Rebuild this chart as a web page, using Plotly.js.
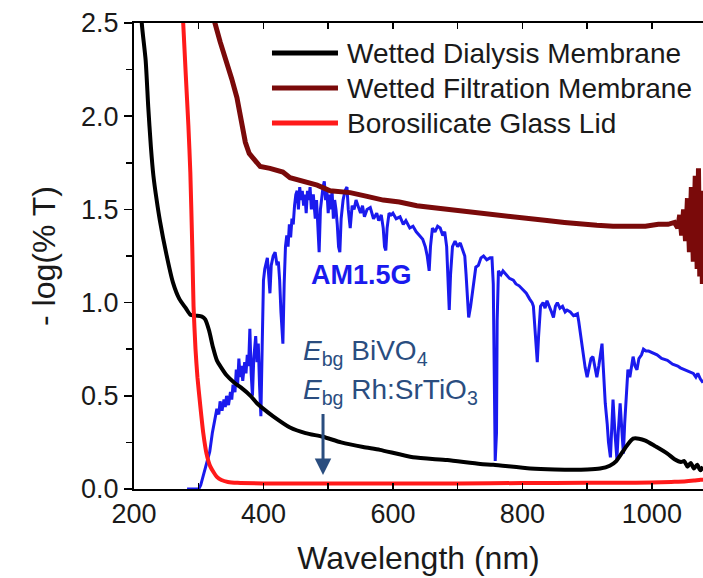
<!DOCTYPE html>
<html>
<head>
<meta charset="utf-8">
<script src="https://cdn.plot.ly/plotly-3.0.1.min.js"></script>
<style>
  html, body { margin: 0; padding: 0; background: #ffffff; overflow: hidden; }
  #chart { width: 703px; height: 578px; }
</style>
</head>
<body>
<div id="chart"></div>
<script>
// ---------- data ----------
const dialysisX = [207, 212, 218, 222, 226, 230, 235, 240, 250, 260, 270, 280, 287, 295, 305, 310, 316, 322, 328, 335, 343, 355, 365, 380, 390, 400, 415, 441, 465, 492, 520, 554, 580, 631, 684, 735, 755, 812, 850, 900, 920, 935, 945, 955, 963, 971, 980, 990, 1005, 1024, 1035, 1045, 1050, 1055, 1060, 1065, 1070, 1075, 1079];
const dialysisY = [2.9, 2.5, 2.3, 2.05, 1.84, 1.68, 1.55, 1.44, 1.26, 1.11, 1.02, 0.97, 0.935, 0.93, 0.925, 0.91, 0.85, 0.76, 0.69, 0.65, 0.61, 0.57, 0.545, 0.5, 0.46, 0.43, 0.39, 0.33, 0.30, 0.28, 0.25, 0.225, 0.21, 0.17, 0.155, 0.134, 0.13, 0.11, 0.105, 0.105, 0.11, 0.125, 0.15, 0.2, 0.24, 0.27, 0.27, 0.26, 0.23, 0.19, 0.16, 0.145, 0.15, 0.12, 0.14, 0.11, 0.13, 0.1, 0.12];

const filtrationX = [318, 325, 333, 343, 351, 359, 364, 367, 372, 378, 385, 395, 410, 430, 441, 460, 483, 503, 534, 560, 585, 610, 637, 660, 688, 710, 735, 760, 790, 815, 838, 865, 890, 915, 940, 965, 990, 1010, 1025, 1035, 1040, 1043, 1046, 1049, 1052, 1055, 1058, 1061, 1064, 1067, 1070, 1072, 1074, 1076, 1078, 1079];
const filtrationY = [2.7, 2.5, 2.4, 2.3, 2.2, 2.1, 2.0, 1.94, 1.86, 1.8, 1.77, 1.73, 1.72, 1.7, 1.67, 1.65, 1.63, 1.6, 1.59, 1.57, 1.55, 1.54, 1.52, 1.51, 1.5, 1.49, 1.48, 1.47, 1.46, 1.45, 1.44, 1.43, 1.42, 1.415, 1.41, 1.41, 1.41, 1.42, 1.42, 1.43, 1.40, 1.47, 1.36, 1.5, 1.33, 1.56, 1.27, 1.62, 1.22, 1.68, 1.18, 1.72, 1.14, 1.6, 1.1, 1.3];

const glassX = [272, 276, 280, 284, 287, 290, 292, 295, 298, 302, 307, 312, 318, 323, 328, 335, 345, 360, 400, 500, 600, 700, 800, 900, 950, 1000, 1030, 1050, 1065, 1075, 1079];
const glassY = [2.75, 2.5, 2.22, 1.95, 1.7, 1.3, 0.98, 0.75, 0.6, 0.46, 0.3, 0.19, 0.12, 0.09, 0.065, 0.048, 0.038, 0.033, 0.03, 0.03, 0.03, 0.03, 0.032, 0.033, 0.033, 0.035, 0.038, 0.04, 0.045, 0.05, 0.05];

const am15gX = [282, 300, 303, 308, 313, 317, 321, 325, 328, 331, 333, 336, 339, 341, 343, 346, 349, 351, 353, 356, 358, 360, 362, 364, 366, 368, 371, 373, 375, 377, 379, 381, 383, 385, 388, 390, 392, 394, 396, 398, 400, 402, 404, 406, 408, 410, 412, 415, 418, 421, 423, 425, 427, 430, 432, 434, 436, 438, 440, 442, 444, 446, 448, 450, 452, 454, 456, 458, 460, 462, 464, 466, 468, 470, 472, 474, 477, 480, 482, 484, 486, 488, 490, 492, 494, 496, 498, 500, 502, 504, 506, 508, 510, 512, 514, 516, 518, 520, 523, 526, 529, 531, 534, 537, 540, 543, 546, 550, 553, 556, 560, 565, 570, 575, 578, 582, 585, 587, 589, 591, 594, 597, 600, 605, 611, 616, 620, 626, 631, 636, 641, 646, 650, 653, 656, 658, 661, 665, 669, 673, 677, 680, 683, 685, 687, 689, 692, 696, 700, 704, 708, 711, 713, 715, 717, 720, 722, 725, 728, 732, 736, 740, 745, 750, 753, 755, 757, 758, 760, 761, 763, 767, 770, 775, 780, 786, 790, 795, 801, 806, 811, 815, 817, 819, 821, 823, 825, 828, 832, 835, 838, 842, 845, 848, 851, 854, 858, 862, 866, 869, 874, 879, 885, 887, 889, 891, 894, 897, 900, 903, 906, 909, 912, 915, 918, 921, 923, 925, 928, 931, 933, 936, 938, 940, 943, 946, 948, 951, 953, 956, 958, 960, 963, 966, 969, 971, 974, 977, 980, 984, 987, 991, 995, 1002, 1008, 1015, 1024, 1032, 1040, 1044, 1050, 1057, 1064, 1068, 1071, 1075, 1079];
const am15gY = [0, 0, 0.02, 0.08, 0.15, 0.2, 0.3, 0.38, 0.43, 0.4, 0.47, 0.42, 0.48, 0.44, 0.5, 0.45, 0.52, 0.48, 0.56, 0.52, 0.64, 0.55, 0.7, 0.6, 0.66, 0.58, 0.68, 0.62, 0.72, 0.66, 0.86, 0.62, 0.5, 0.7, 0.82, 0.68, 0.78, 0.55, 0.39, 0.76, 1.12, 1.18, 1.22, 1.24, 1.15, 1.05, 1.2, 1.25, 1.27, 1.2, 1.22, 1.12, 0.95, 0.78, 1.1, 1.3, 1.36, 1.3, 1.42, 1.35, 1.45, 1.42, 1.52, 1.58, 1.6, 1.5, 1.62, 1.55, 1.6, 1.52, 1.58, 1.48, 1.6, 1.55, 1.62, 1.5, 1.58, 1.45, 1.55, 1.4, 1.27, 1.5, 1.58, 1.62, 1.65, 1.55, 1.6, 1.48, 1.58, 1.5, 1.6, 1.45, 1.55, 1.5, 1.42, 1.3, 1.27, 1.45, 1.55, 1.6, 1.62, 1.5, 1.4, 1.52, 1.5, 1.55, 1.52, 1.48, 1.52, 1.46, 1.5, 1.51, 1.45, 1.48, 1.44, 1.47, 1.4, 1.3, 1.28, 1.4, 1.48, 1.47, 1.48, 1.45, 1.46, 1.42, 1.44, 1.4, 1.41, 1.38, 1.36, 1.34, 1.3, 1.25, 1.17, 1.3, 1.4, 1.38, 1.41, 1.4, 1.36, 1.38, 1.3, 1.1, 0.96, 1.15, 1.3, 1.33, 1.3, 1.32, 1.28, 1.25, 1.15, 1.0, 0.92, 0.98, 1.03, 1.1, 1.19, 1.2, 1.24, 1.25, 1.23, 1.24, 1.24, 1.1, 0.5, 0.15, 0.3, 0.9, 1.17, 1.15, 1.17, 1.15, 1.13, 1.12, 1.1, 1.09, 1.07, 1.05, 1.02, 1.0, 0.98, 0.88, 0.8, 0.68, 0.82, 0.98, 1.0, 0.97, 1.01, 0.98, 0.95, 0.92, 0.98, 1.0, 0.97, 0.98, 0.95, 0.96, 0.95, 0.93, 0.94, 0.9, 0.85, 0.78, 0.71, 0.65, 0.6, 0.66, 0.7, 0.71, 0.65, 0.6, 0.66, 0.72, 0.78, 0.65, 0.46, 0.35, 0.25, 0.17, 0.3, 0.48, 0.3, 0.16, 0.3, 0.46, 0.35, 0.19, 0.35, 0.5, 0.64, 0.6, 0.68, 0.71, 0.66, 0.64, 0.7, 0.72, 0.75, 0.74, 0.74, 0.73, 0.72, 0.7, 0.69, 0.67, 0.66, 0.65, 0.64, 0.63, 0.62, 0.6, 0.62, 0.59, 0.57];

const seriesNames = ["Wetted Dialysis Membrane", "Wetted Filtration Membrane", "Borosilicate Glass Lid"];
const seriesColors = ["#000000", "#7a0a0a", "#ff1a1a"];
const xTickVals = [200, 400, 600, 800, 1000];
const yTickVals = [0, 0.5, 1.0, 1.5, 2.0, 2.5];
const bandgapWavelength = 492;   // arrow position (nm)

// ---------- chart ----------
const FONT = "Liberation Sans, Arial, Helvetica, sans-serif";

const traces = [
  { x: am15gX, y: am15gY, mode: "lines", name: "AM1.5G", line: { color: "#1a1aee", width: 3 }, showlegend: false },
  { x: dialysisX, y: dialysisY, mode: "lines", name: seriesNames[0], line: { color: seriesColors[0], width: 4, shape: "spline", smoothing: 0.6 }, showlegend: false },
  { x: filtrationX, y: filtrationY, mode: "lines", name: seriesNames[1], line: { color: seriesColors[1], width: 5 }, showlegend: false },
  { x: glassX, y: glassY, mode: "lines", name: seriesNames[2], line: { color: seriesColors[2], width: 4, shape: "spline", smoothing: 0.5 }, showlegend: false }
];

// manual legend (paper coordinates)
const legendRowsY = [0.9356, 0.8605, 0.7854];
const shapes = [];
const annotations = [];
seriesNames.forEach((n, i) => {
  shapes.push({ type: "line", xref: "paper", yref: "paper", x0: 0.2425, x1: 0.3585, y0: legendRowsY[i], y1: legendRowsY[i],
                line: { color: seriesColors[i], width: 5 } });
  annotations.push({ xref: "paper", yref: "paper", x: 0.3708, y: legendRowsY[i], xanchor: "left", yanchor: "middle",
                     text: n, showarrow: false, font: { family: FONT, size: 28, color: "#1a1a1a" } });
});

annotations.push({ xref: "x", yref: "y", x: 552, y: 1.15, text: "<b>AM1.5G</b>", showarrow: false,
                   font: { family: FONT, size: 27, color: "#1a1aee" }, xanchor: "center", yanchor: "middle" });
annotations.push({ xref: "x", yref: "y", x: 458, y: 0.735, xanchor: "left", yanchor: "middle", showarrow: false,
                   text: "<i>E</i><sub>bg</sub> BiVO<sub>4</sub>", font: { family: FONT, size: 28, color: "#2a4d7f" } });
annotations.push({ xref: "x", yref: "y", x: 458, y: 0.525, xanchor: "left", yanchor: "middle", showarrow: false,
                   text: "<i>E</i><sub>bg</sub> Rh:SrTiO<sub>3</sub>", font: { family: FONT, size: 28, color: "#2a4d7f" } });
annotations.push({ xref: "x", yref: "y", x: bandgapWavelength, y: 0.075, axref: "x", ayref: "y", ax: bandgapWavelength, ay: 0.41,
                   text: "", showarrow: true, arrowhead: 2, arrowsize: 1.1, arrowwidth: 3, arrowcolor: "#2a4d7f" });

const layout = {
  width: 703, height: 578,
  margin: { l: 134, r: 0, t: 23, b: 89 },
  paper_bgcolor: "#ffffff", plot_bgcolor: "#ffffff",
  font: { family: FONT, color: "#1a1a1a" },
  xaxis: {
    range: [200, 1079], tickvals: xTickVals, ticks: "inside", ticklen: 6, tickwidth: 1.5, tickcolor: "#000",
    minor: { dtick: 100, ticks: "inside", ticklen: 6, tickwidth: 1.5, tickcolor: "#000" },
    showline: true, linecolor: "#000", linewidth: 2, mirror: "ticks", showgrid: false, zeroline: false,
    tickfont: { family: FONT, size: 27, color: "#1a1a1a" },
    title: { text: "Wavelength (nm)", font: { family: FONT, size: 32, color: "#1a1a1a" }, standoff: 18 }
  },
  yaxis: {
    range: [0, 2.5], tickvals: yTickVals, tickformat: ".1f", ticks: "outside", ticklen: 8, tickwidth: 1.5, tickcolor: "#000",
    minor: { dtick: 0.25, ticks: "outside", ticklen: 6, tickwidth: 1.5, tickcolor: "#000" },
    showline: true, linecolor: "#000", linewidth: 2, mirror: false, showgrid: false, zeroline: false,
    tickfont: { family: FONT, size: 27, color: "#1a1a1a" },
    title: { text: "- log(% T)", font: { family: FONT, size: 32, color: "#1a1a1a" }, standoff: 16 }
  },
  shapes: shapes,
  annotations: annotations
};

Plotly.newPlot("chart", traces, layout, { displayModeBar: false, staticPlot: true });
</script>
</body>
</html>
